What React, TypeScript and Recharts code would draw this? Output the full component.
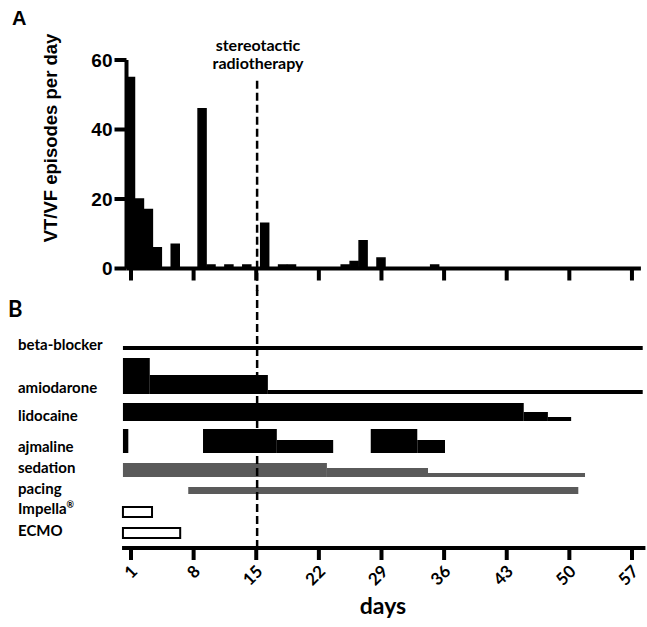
import {
  BarChart,
  Bar,
  ComposedChart,
  Line,
  XAxis,
  YAxis,
  ReferenceLine,
  ReferenceArea,
} from 'recharts';

// panel A: VT/VF episodes per day (days with no bar are 0)
const EPISODE_DAYS = [1, 2, 3, 4, 6, 9, 10, 12, 14, 16, 18, 19, 25, 26, 27, 29, 35];
const EPISODES = [55, 20, 17, 6, 7, 46, 1, 1, 1, 13, 1, 1, 1, 2, 8, 3, 1];
const EPISODE_TICKS = [0, 20, 40, 60];
const DAY_TICKS = [1, 8, 15, 22, 29, 36, 43, 50, 57];
const RADIOTHERAPY_DAY = 15.1;

// panel B: treatment periods, level = relative dose
type Seg = { from: number; to: number; level: number };
const BETA_BLOCKER: Seg[] = [{ from: 0.1, to: 58.2, level: 1 }];
const AMIODARONE: Seg[] = [
  { from: 0.1, to: 3.1, level: 9 },
  { from: 3.1, to: 16.3, level: 4.75 },
  { from: 16.3, to: 58.2, level: 1 },
];
const LIDOCAINE: Seg[] = [
  { from: 0.1, to: 44.9, level: 4.5 },
  { from: 44.9, to: 47.6, level: 2.25 },
  { from: 47.6, to: 50.2, level: 1 },
];
const AJMALINE: Seg[] = [
  { from: 0.1, to: 0.7, level: 6 },
  { from: 9.05, to: 17.3, level: 6 },
  { from: 17.3, to: 23.6, level: 3.25 },
  { from: 27.8, to: 33, level: 6 },
  { from: 33, to: 36.1, level: 3.25 },
];
const SEDATION: Seg[] = [
  { from: 0.1, to: 22.9, level: 3.5 },
  { from: 22.9, to: 34.2, level: 2.25 },
  { from: 34.2, to: 51.75, level: 1 },
];
const PACING: Seg[] = [{ from: 7.4, to: 51, level: 1.75 }];
const IMPELLA: Seg[] = [{ from: 0.1, to: 3.35, level: 2.5 }];
const ECMO: Seg[] = [{ from: 0.1, to: 6.5, level: 2.5 }];

const ROW_NAMES = ['beta-blocker', 'amiodarone', 'lidocaine', 'ajmaline', 'sedation', 'pacing', 'Impella', 'ECMO'];
const ROW_SEGMENTS = [BETA_BLOCKER, AMIODARONE, LIDOCAINE, AJMALINE, SEDATION, PACING, IMPELLA, ECMO];

// layout of the rows (y units of panel B)
const ROW_BASE = [49.5, 38.5, 31.75, 23.75, 17.75, 13.5, 7.75, 2.5];
const ROW_LABEL_POS = [50.75, 40, 33, 25.25, 20, 14.75, 9.75, 4.25];
const ROW_STYLE = [
  { fill: '#000', stroke: 'none' },
  { fill: '#000', stroke: 'none' },
  { fill: '#000', stroke: 'none' },
  { fill: '#000', stroke: 'none' },
  { fill: '#5a5a5a', stroke: 'none' },
  { fill: '#5a5a5a', stroke: 'none' },
  { fill: '#fff', stroke: '#000' },
  { fill: '#fff', stroke: '#000' },
];

const ARIAL = '"Liberation Sans", Arial, sans-serif';
const CALIBRI = 'Lato, "Open Sans", sans-serif';

const topData = EPISODE_DAYS.map((day, i) => ({ day, episodes: EPISODES[i] }));
const allSegments = ROW_SEGMENTS.flat();

function DayTick(props: any) {
  const { x, y, payload } = props;
  const tx = x + 3;
  const ty = y + 6;
  return (
    <text
      x={tx}
      y={ty}
      transform={`rotate(-45, ${tx}, ${ty})`}
      textAnchor="end"
      dominantBaseline="central"
      fontFamily={CALIBRI}
      fontWeight={700}
      fontSize={17}
      fill="#000"
    >
      {payload.value}
    </text>
  );
}

function RowTick(props: any) {
  const { y, payload } = props;
  const i = ROW_LABEL_POS.indexOf(payload.value);
  const name = ROW_NAMES[i];
  return (
    <text x={18} y={y} dy="0.35em" textAnchor="start" fontFamily={CALIBRI} fontWeight={700} fontSize={15} fill="#000">
      {name}
      {name === 'Impella' && (
        <tspan fontSize={9} dy={-6}>
          ®
        </tspan>
      )}
    </text>
  );
}

export default function App() {
  const axisStyle = { stroke: '#000', strokeWidth: 4 };
  return (
    <div style={{ position: 'absolute', left: 0, top: 0, width: 647, height: 627, background: '#fff' }}>
      <div style={{ position: 'absolute', left: 0, top: 0 }}>
        <BarChart width={647} height={300} data={topData} margin={{ top: 60, right: 6.1, bottom: 11.5, left: 0 }}>
          <XAxis
            dataKey="day"
            type="number"
            domain={[0.5, 58]}
            ticks={DAY_TICKS}
            interval={0}
            tick={() => <g />}
            tickSize={12}
            height={20}
            axisLine={axisStyle}
            tickLine={axisStyle}
            allowDataOverflow
          />
          <YAxis
            type="number"
            domain={[0, 60]}
            ticks={EPISODE_TICKS}
            interval={0}
            width={126.5}
            tickSize={12}
            tickMargin={2}
            axisLine={axisStyle}
            tickLine={axisStyle}
            tick={{ fill: '#000', fontSize: 19, fontWeight: 700, fontFamily: ARIAL }}
          />
          <Bar dataKey="episodes" fill="#000" stroke="#000" strokeWidth={1.5} barSize={8} isAnimationActive={false} />
          <ReferenceLine
            segment={[
              { x: RADIOTHERAPY_DAY, y: 54 },
              { x: RADIOTHERAPY_DAY, y: -6.5 },
            ]}
            stroke="#000"
            strokeWidth={2.5}
            strokeDasharray="8 4"
            ifOverflow="visible"
          />
        </BarChart>
      </div>

      <div style={{ position: 'absolute', left: 0, top: 280 }}>
        <ComposedChart width={647} height={347} data={allSegments} margin={{ top: 10, right: 1.6, bottom: 10, left: 0 }}>
          <XAxis
            dataKey="from"
            type="number"
            domain={[0, 58.5]}
            ticks={DAY_TICKS}
            interval={0}
            tickSize={12}
            height={69}
            axisLine={axisStyle}
            tickLine={axisStyle}
            tick={(p: any) => <DayTick {...p} />}
            allowDataOverflow
          />
          <YAxis
            type="number"
            domain={[0, 64.5]}
            ticks={ROW_LABEL_POS}
            interval={0}
            width={122.05}
            axisLine={false}
            tickLine={false}
            tick={(p: any) => <RowTick {...p} />}
            allowDataOverflow
          />
          <Line dataKey="level" stroke="none" dot={false} activeDot={false} isAnimationActive={false} />
          {ROW_SEGMENTS.map((segs, r) =>
            segs.map((s, i) => (
              <ReferenceArea
                key={`${r}-${i}`}
                x1={s.from}
                x2={s.to}
                y1={ROW_BASE[r]}
                y2={ROW_BASE[r] + s.level}
                fill={ROW_STYLE[r].fill}
                fillOpacity={1}
                stroke={ROW_STYLE[r].stroke}
                strokeWidth={2}
                ifOverflow="visible"
              />
            ))
          )}
          <ReferenceLine x={RADIOTHERAPY_DAY} stroke="#000" strokeWidth={2.5} strokeDasharray="8 4" />
        </ComposedChart>
      </div>

      <svg width={647} height={627} style={{ position: 'absolute', left: 0, top: 0, pointerEvents: 'none' }}>
        <text x={12} y={25} fontFamily={ARIAL} fontWeight={700} fontSize={20}>A</text>
        <text x={8} y={317} fontFamily={CALIBRI} fontWeight={700} fontSize={22}>B</text>
        <text x={57} y={138} transform="rotate(-90, 57, 138)" textAnchor="middle" fontFamily={ARIAL} fontWeight={700} fontSize={18.5}>
          VT/VF episodes per day
        </text>
        <text x={258} y={51} textAnchor="middle" fontFamily={CALIBRI} fontWeight={700} fontSize={16}>stereotactic</text>
        <text x={258} y={69} textAnchor="middle" fontFamily={CALIBRI} fontWeight={700} fontSize={16}>radiotherapy</text>
        <text x={383} y={614} textAnchor="middle" fontFamily={CALIBRI} fontWeight={700} fontSize={23}>days</text>
      </svg>
    </div>
  );
}
